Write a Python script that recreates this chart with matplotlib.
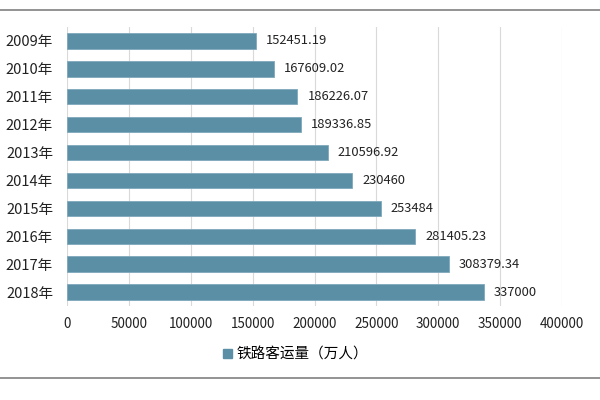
import matplotlib.pyplot as plt
from matplotlib.lines import Line2D
from matplotlib.patches import Patch

plt.rcParams['font.family'] = ['Noto Sans CJK SC', 'DejaVu Sans']

years = ['2009年', '2010年', '2011年', '2012年', '2013年',
         '2014年', '2015年', '2016年', '2017年', '2018年']
values = [152451.19, 167609.02, 186226.07, 189336.85, 210596.92,
          230460, 253484, 281405.23, 308379.34, 337000]
labels = ['152451.19', '167609.02', '186226.07', '189336.85', '210596.92',
          '230460', '253484', '281405.23', '308379.34', '337000']
xticks = [0, 50000, 100000, 150000, 200000, 250000, 300000, 350000, 400000]

bar_color = '#5b8fa6'

fig = plt.figure(figsize=(6, 4), dpi=100)
ax = fig.add_axes([0.1117, 0.235, 0.825, 0.6975])

pos = list(range(len(years)))
ax.barh(pos, values, height=0.55, color=bar_color, edgecolor='#7fa9bc', linewidth=0.6, zorder=3)
for p, v, t in zip(pos, values, labels):
    ax.text(v + 8000, p, t, va='center', ha='left', fontsize=9.3, color='#222222')

ax.set_yticks(pos)
ax.set_yticklabels(years, fontsize=10.5)
ax.set_ylim(len(years) - 0.5, -0.5)
ax.set_xlim(0, 400000)
ax.set_xticks(xticks)
ax.set_xticklabels([str(x) for x in xticks], fontsize=9.7)
ax.tick_params(axis='both', length=0, colors='#222222')
ax.tick_params(axis='x', pad=8)
ax.tick_params(axis='y', pad=10)
ax.grid(axis='x', color='#d9d9d9', linewidth=0.8, zorder=0)
for s in ax.spines.values():
    s.set_visible(False)

# top and bottom border lines
fig.add_artist(Line2D([0, 1], [0.975, 0.975], color='#808080', linewidth=1.2))
fig.add_artist(Line2D([0, 1], [0.055, 0.055], color='#808080', linewidth=1.2))

fig.legend(handles=[Patch(color=bar_color)], labels=['铁路客运量（万人）'],
           loc='center', bbox_to_anchor=(0.493, 0.113), frameon=False,
           fontsize=10.5, handlelength=0.6, handleheight=0.6, handletextpad=0.3)

fig.savefig('out.png', dpi=100)
